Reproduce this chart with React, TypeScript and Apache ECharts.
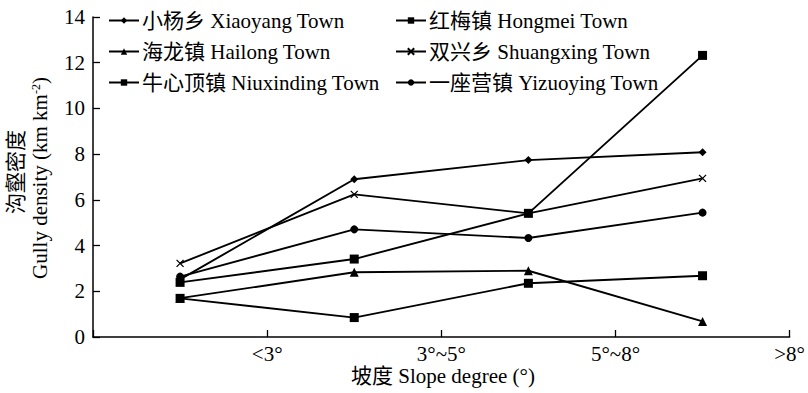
import React, { useEffect, useRef } from "react";
import * as echarts from "echarts";

// Slope-degree classes (band boundaries carry the labels)
const slopeClasses = ["<3°", "3°~5°", "5°~8°", ">8°"];
const tickLabels = ["", "<3°", "3°~5°", "5°~8°", ">8°"];

// Gully density (km km-2) per town, one value per slope class
const xiaoyang = [2.52, 6.9, 7.74, 8.08];
const hongmei = [1.69, 0.85, 2.35, 2.68];
const hailong = [1.7, 2.83, 2.9, 0.68];
const shuangxing = [3.22, 6.24, 5.41, 6.94];
const niuxinding = [2.39, 3.41, 5.41, 12.32];
const yizuoying = [2.64, 4.71, 4.33, 5.44];

const seriesNames = [
  "小杨乡 Xiaoyang Town",
  "红梅镇 Hongmei Town",
  "海龙镇 Hailong Town",
  "双兴乡 Shuangxing Town",
  "牛心顶镇 Niuxinding Town",
  "一座营镇 Yizuoying Town",
];

const FONT = "'Liberation Serif', 'Times New Roman', 'Noto Sans CJK SC', serif";
const FS = 21;
const CROSS = "path://M0,0L10,10M10,0L0,10";

export default function App() {
  const ref = useRef<HTMLDivElement>(null);

  useEffect(() => {
    if (!ref.current) return;
    const chart = echarts.init(ref.current, null, { renderer: "svg" });

    const mk = (
      name: string,
      data: number[],
      symbol: string,
      size: number,
      cross = false
    ) => ({
      name,
      type: "line",
      xAxisIndex: 0,
      data,
      symbol,
      symbolSize: size,
      showSymbol: true,
      lineStyle: { color: "#000", width: 1.9 },
      itemStyle: cross
        ? { color: "#000", borderColor: "#000", borderWidth: 1.3 }
        : { color: "#000", borderWidth: 0 },
      emphasis: { disabled: true },
      z: 3,
    });

    const legendBase = {
      orient: "vertical",
      top: 10,
      itemWidth: 30,
      itemHeight: 8,
      itemGap: 10,
      padding: 0,
      textStyle: {
        fontFamily: FONT,
        fontSize: FS,
        lineHeight: FS,
        color: "#000",
        padding: [0, 0, 0, -2],
      },
    };

    chart.setOption({
      animation: false,
      backgroundColor: "#fff",
      grid: { left: 93, right: 13, top: 17, bottom: 56 },
      legend: [
        {
          ...legendBase,
          left: 108,
          data: [seriesNames[0], seriesNames[2], seriesNames[4]],
        },
        {
          ...legendBase,
          left: 395,
          data: [seriesNames[1], seriesNames[3], seriesNames[5]],
        },
      ],
      xAxis: [
        {
          type: "category",
          data: slopeClasses,
          boundaryGap: true,
          position: "bottom",
          axisLine: { show: true, lineStyle: { color: "#000", width: 1.5 } },
          axisTick: {
            show: true,
            inside: true,
            length: 7,
            alignWithLabel: false,
            interval: 0,
            lineStyle: { color: "#000", width: 1.3 },
          },
          axisLabel: { show: false },
          splitLine: { show: false },
        },
        {
          type: "value",
          min: 0,
          max: 4,
          interval: 1,
          position: "bottom",
          offset: 0,
          axisLine: { show: false },
          axisTick: { show: false },
          splitLine: { show: false },
          axisLabel: {
            show: true,
            margin: 6,
            fontFamily: FONT,
            fontSize: FS,
            color: "#000",
            showMinLabel: true,
            showMaxLabel: true,
            formatter: (v: number) => tickLabels[Math.round(v)] ?? "",
          },
        },
      ],
      yAxis: {
        type: "value",
        min: 0,
        max: 14,
        interval: 2,
        axisLine: { show: true, lineStyle: { color: "#000", width: 1.5 } },
        axisTick: {
          show: true,
          inside: true,
          length: 7,
          lineStyle: { color: "#000", width: 1.3 },
        },
        axisLabel: {
          margin: 8,
          fontFamily: FONT,
          fontSize: FS,
          color: "#000",
        },
        splitLine: { show: false },
      },
      series: [
        mk(seriesNames[0], xiaoyang, "diamond", 8),
        mk(seriesNames[1], hongmei, "rect", 9),
        mk(seriesNames[2], hailong, "triangle", 9),
        mk(seriesNames[3], shuangxing, CROSS, 7, true),
        mk(seriesNames[4], niuxinding, "rect", 9),
        mk(seriesNames[5], yizuoying, "circle", 8),
      ],
      graphic: [
        {
          type: "text",
          x: 16,
          y: 172,
          rotation: Math.PI / 2,
          style: {
            text: "沟壑密度",
            fontFamily: FONT,
            fontSize: FS,
            fill: "#000",
            textAlign: "center",
            textVerticalAlign: "middle",
          },
        },
        {
          type: "text",
          x: 40,
          y: 178,
          rotation: Math.PI / 2,
          style: {
            text: "{a|Gully density (km km}{s|-2}{a|)}",
            textAlign: "center",
            textVerticalAlign: "middle",
            rich: {
              a: { fontFamily: FONT, fontSize: FS, fill: "#000", lineHeight: FS },
              s: {
                fontFamily: FONT,
                fontSize: 12,
                fill: "#000",
                lineHeight: FS,
                verticalAlign: "top",
                padding: [0, 0, 8, 0],
              },
            },
          },
        },
        {
          type: "text",
          x: 443,
          y: 376,
          style: {
            text: "坡度 Slope degree (°)",
            fontFamily: FONT,
            fontSize: FS,
            fill: "#000",
            textAlign: "center",
            textVerticalAlign: "middle",
          },
        },
      ],
    });

    return () => chart.dispose();
  }, []);

  return (
    <div
      ref={ref}
      style={{ position: "fixed", left: 0, top: 0, width: 808, height: 393 }}
    />
  );
}
